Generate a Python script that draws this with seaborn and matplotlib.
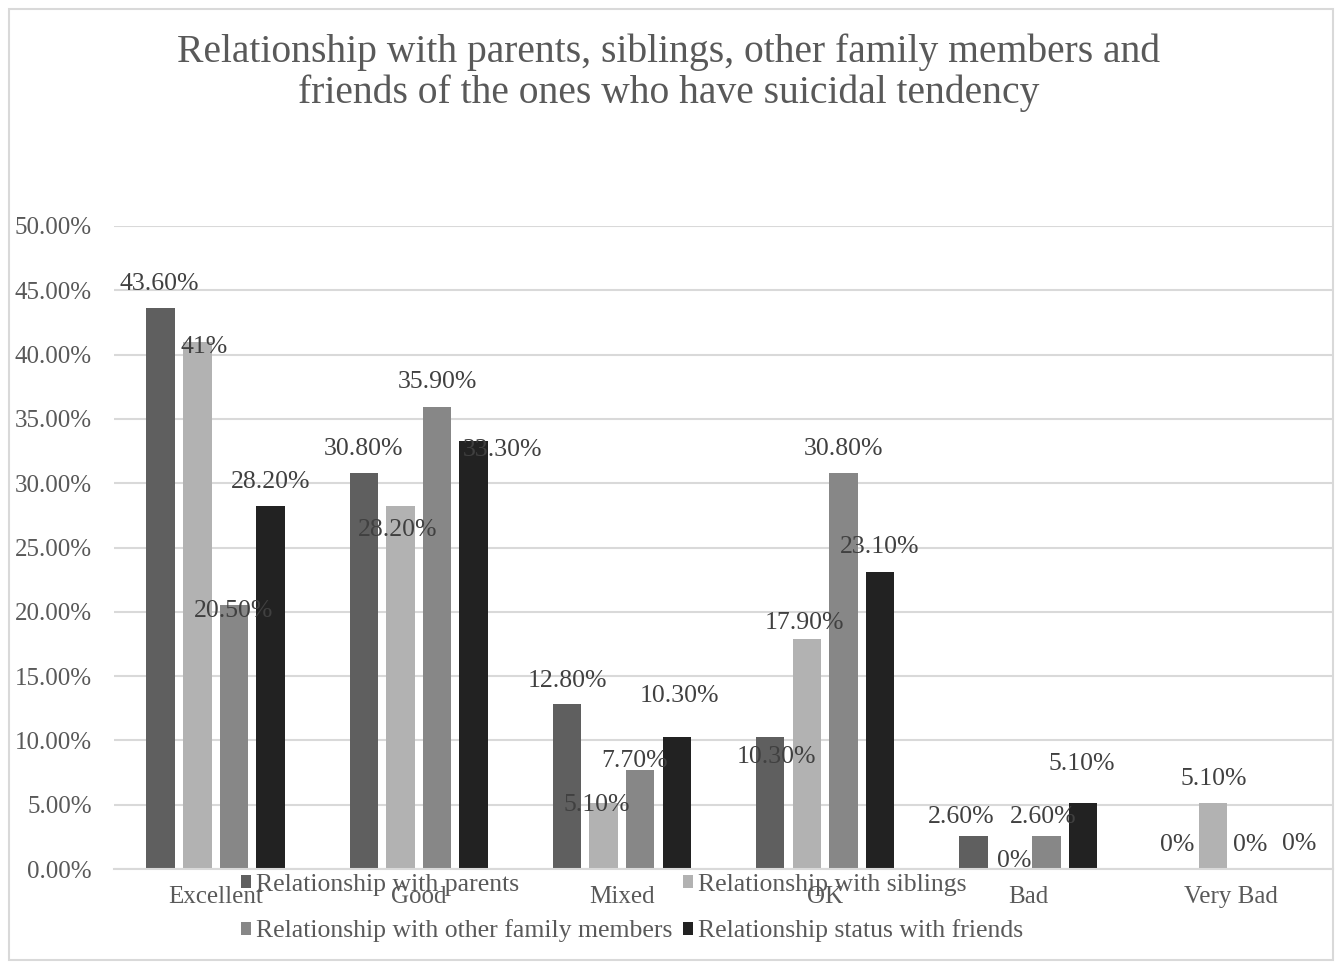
import numpy as np
import pandas as pd
import matplotlib
matplotlib.use("Agg")
import matplotlib.pyplot as plt
from matplotlib.patches import Rectangle
from matplotlib.ticker import FuncFormatter, MultipleLocator
import seaborn as sns

categories = ["Excellent", "Good", "Mixed", "OK", "Bad", "Very Bad"]
series = ["Relationship with parents", "Relationship with siblings",
          "Relationship with other family members", "Relationship status with friends"]
parents = [43.6, 30.8, 12.8, 10.3, 2.6, 0]
siblings = [41, 28.2, 5.1, 17.9, 0, 5.1]
other_family = [20.5, 35.9, 7.7, 30.8, 2.6, 0]
friends = [28.2, 33.3, 10.3, 23.1, 5.1, 0]
title = ("Relationship with parents, siblings, other family members and\n"
         "friends of the ones who have suicidal tendency")

colors = ["#5f5f5f", "#b2b2b2", "#878787", "#222222"]
# label offsets in pixels (dx, dy up) relative to bar top centre, per series
label_offsets = [
    [(-1, 24), (0, 24), (0, 23), (6, -20), (-12, 19), (1, 24)],
    [(7, -5), (-3, -24), (-7, -2), (-2, 16), (4, 8), (1, 24)],
    [(0, -6), (0, 25), (-6, 9), (0, 24), (-3, 19), (0, 24)],
    [(0, 24), (29, -9), (3, 41), (0, 25), (-1, 39), (13, 25)],
]

rows = []
for s, vals in zip(series, [parents, siblings, other_family, friends]):
    for c, v in zip(categories, vals):
        rows.append({"category": c, "series": s, "value": v / 100.0})
df = pd.DataFrame(rows)

sns.set_theme(style="white")
plt.rcParams["font.family"] = ["Liberation Serif", "DejaVu Serif"]
TXT = "#595959"

fig = plt.figure(figsize=(13.38, 9.64), dpi=100)
W, H = 1338, 964
ax = fig.add_axes([114 / W, 1 - 869 / H, (1333 - 114) / W, (869 - 226) / H])

sns.barplot(data=df, x="category", y="value", hue="series", order=categories,
            hue_order=series, palette=colors, width=0.72, gap=0.22,
            saturation=1, ax=ax, legend=True, edgecolor="none")

ax.set_ylim(0, 0.5)
ax.set_xlim(-0.5, 5.5)
ax.yaxis.set_major_locator(MultipleLocator(0.05))
ax.yaxis.set_major_formatter(FuncFormatter(lambda v, p: f"{v * 100:.2f}%"))
ax.grid(axis="y", color="#d9d9d9", linewidth=1.5)
ax.set_axisbelow(True)
for sp in ["top", "right", "left"]:
    ax.spines[sp].set_visible(False)
ax.spines["bottom"].set_color("#d9d9d9")
ax.spines["bottom"].set_linewidth(1.5)
ax.set_xlabel("")
ax.set_ylabel("")
ax.tick_params(axis="y", length=0, pad=16, labelsize=18, labelcolor=TXT)
ax.tick_params(axis="x", length=0, pad=12, labelsize=18, labelcolor=TXT)

for si, cont in enumerate(ax.containers):
    for ci, bar in enumerate(cont):
        v = bar.get_height()
        pct = v * 100
        txt = f"{pct:.0f}%" if abs(pct - round(pct)) < 1e-9 else f"{pct:.2f}%"
        dx, dy = label_offsets[si][ci]
        ax.annotate(txt, xy=(bar.get_x() + bar.get_width() / 2, v),
                    xytext=(dx, dy), textcoords="offset pixels",
                    ha="center", va="center", fontsize=18.5, color="#404040",
                    annotation_clip=False)

handles, labels = ax.get_legend_handles_labels()
ax.legend_.remove()
order = [0, 2, 1, 3]
fig.legend([handles[i] for i in order], [labels[i] for i in order],
           loc="center", ncol=2,
           bbox_to_anchor=(632 / W, 1 - 908 / H), frameon=False,
           fontsize=18.5, labelcolor=TXT, handlelength=0.4, handleheight=0.4,
           handletextpad=0.2, columnspacing=0.4, labelspacing=0.92)

fig.text(0.5, 1 - 73 / H, title, ha="center", va="center", fontsize=28.5,
         color=TXT, linespacing=1.12)

fig.patches.append(Rectangle((9 / W, 1 - 960 / H), (1333 - 9) / W, (960 - 9) / H,
                             transform=fig.transFigure, fill=False,
                             edgecolor="#d9d9d9", linewidth=1.5))

fig.savefig("out.png", dpi=100, facecolor="white")
